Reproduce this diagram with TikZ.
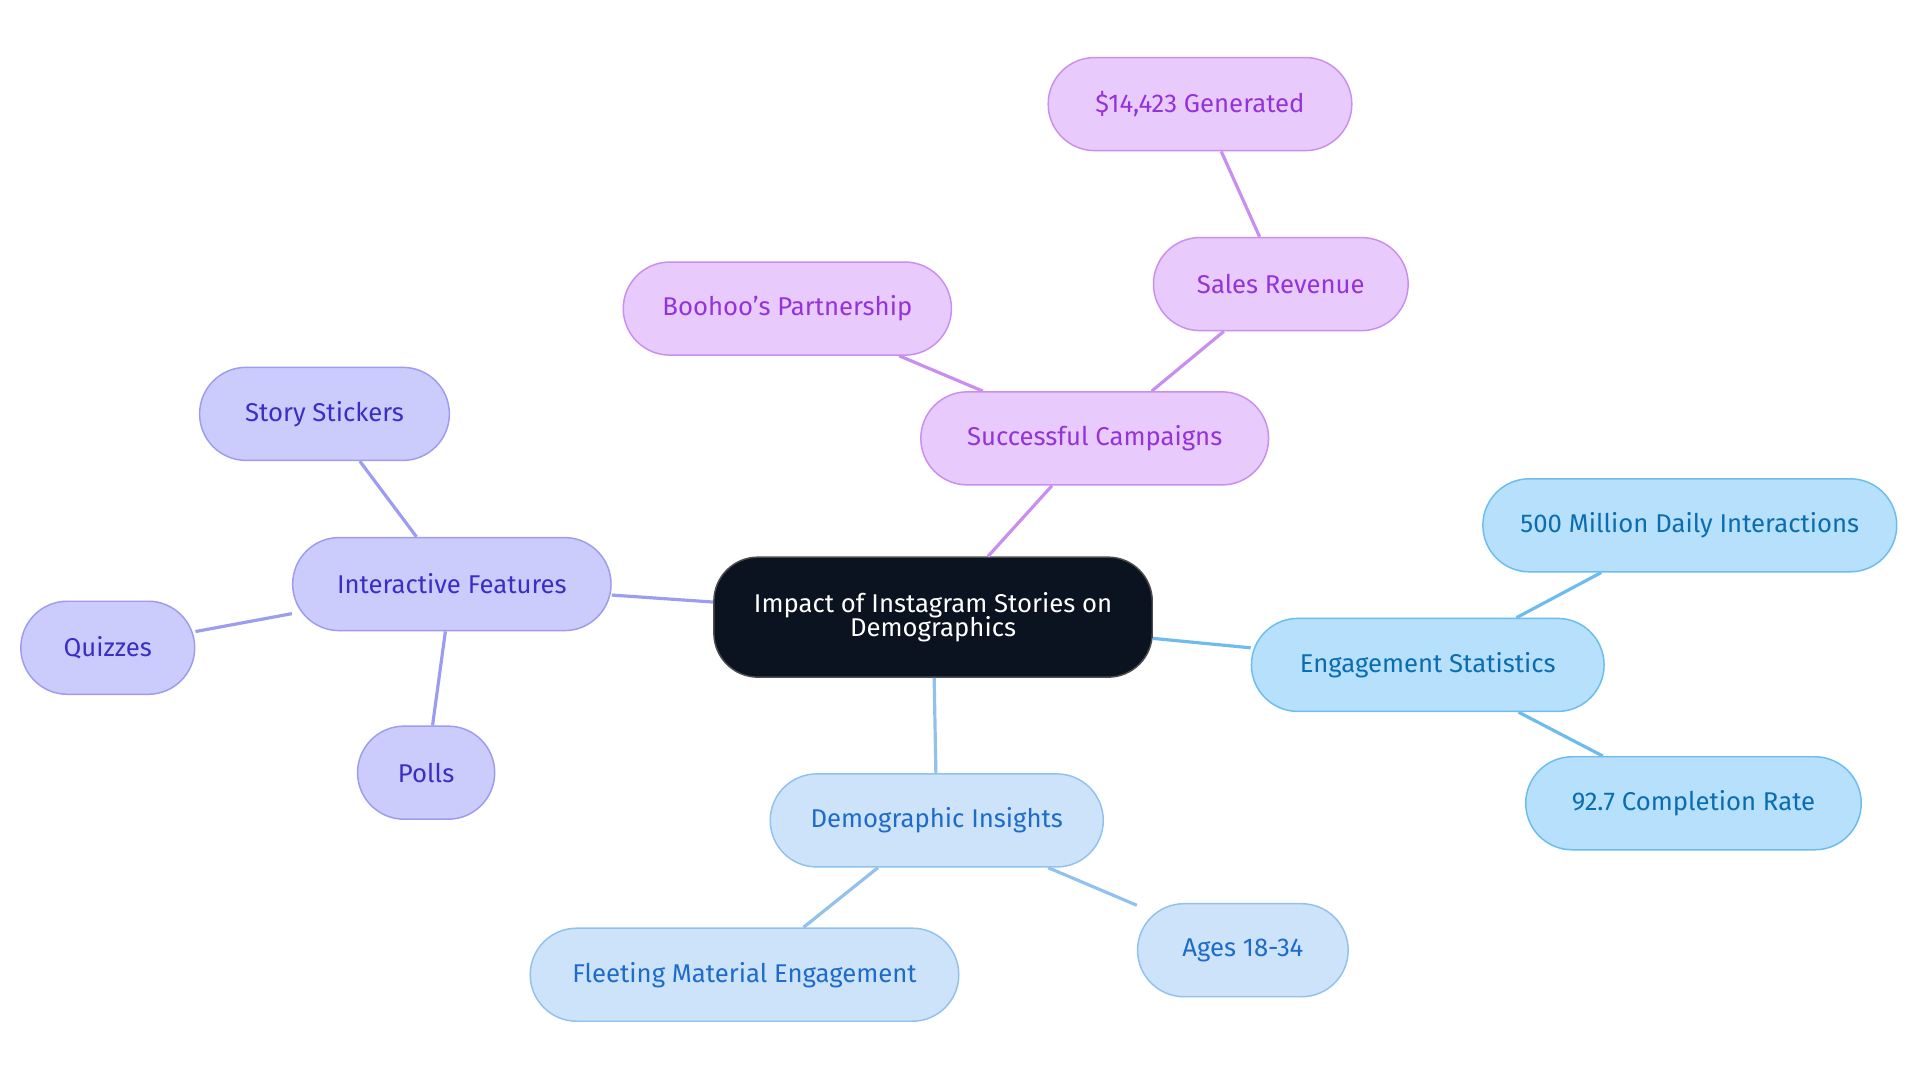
\documentclass[tikz,border=0pt]{standalone}
\usepackage{fontspec}
\setmainfont{Fira Sans}
\definecolor{pf}{HTML}{E8CBFC}\definecolor{pb}{HTML}{C98EF0}\definecolor{pt}{HTML}{9333D9}
\definecolor{vf}{HTML}{CBCBFC}\definecolor{vb}{HTML}{9C9CF0}\definecolor{vt}{HTML}{3A2FC4}
\definecolor{ef}{HTML}{B6E0FC}\definecolor{eb}{HTML}{6CBDED}\definecolor{et}{HTML}{0B6DB0}
\definecolor{df}{HTML}{CDE3FA}\definecolor{db}{HTML}{92C1EE}\definecolor{dt}{HTML}{1F6BC8}
\begin{document}
\begin{tikzpicture}[x=0.5pt,y=-0.5pt,
 box/.style={rectangle,rounded corners=19pt,minimum height=38pt,inner sep=0pt,line width=0.6pt,font=\fontsize{10.5}{12}\selectfont,align=center},
 P/.style={box,fill=pf,draw=pb,text=pt},
 V/.style={box,fill=vf,draw=vb,text=vt},
 E/.style={box,fill=ef,draw=eb,text=et},
 D/.style={box,fill=df,draw=db,text=dt},
 lk/.style={line width=1.3pt}]
\useasboundingbox (0,0) rectangle (1568,884);
\node[box,fill=black!90!blue!60!black,fill={rgb,255:red,11;green,18;blue,32},draw=black!70,text=white,minimum width=179pt,minimum height=49pt,rounded corners=18pt] (c) at (762,504) {Impact of Instagram Stories on\\[-2pt]Demographics};
\node[P,minimum width=142pt] (sc) at (894,358) {Successful Campaigns};
\node[P,minimum width=104pt] (sr) at (1046,232) {Sales Revenue};
\node[P,minimum width=124pt] (g) at (980,85) {\$14,423 Generated};
\node[P,minimum width=134pt] (bp) at (643,252) {Boohoo’s Partnership};
\node[V,minimum width=130pt] (if) at (369,477) {Interactive Features};
\node[V,minimum width=102pt] (ss) at (265,338) {Story Stickers};
\node[V,minimum width=71pt] (q) at (88,529) {Quizzes};
\node[V,minimum width=56pt] (po) at (348,631) {Polls};
\node[E,minimum width=144pt] (es) at (1166,543) {Engagement Statistics};
\node[E,minimum width=169pt] (m) at (1380,429) {500 Million Daily Interactions};
\node[E,minimum width=137pt] (cr) at (1383,656) {92.7 Completion Rate};
\node[D,minimum width=136pt] (di) at (765,670) {Demographic Insights};
\node[D,minimum width=86pt] (a) at (1015,776) {Ages 18-34};
\node[D,minimum width=175pt] (f) at (608,796) {Fleeting Material Engagement};
\begin{scope}[on background layer/.style={}]
\end{scope}
\draw[lk,pb] (c) -- (sc); \draw[lk,pb] (sc) -- (sr); \draw[lk,pb] (sr) -- (g); \draw[lk,pb] (sc) -- (bp);
\draw[lk,vb] (c) -- (if); \draw[lk,vb] (if) -- (ss); \draw[lk,vb] (if) -- (q); \draw[lk,vb] (if) -- (po);
\draw[lk,eb] (c) -- (es); \draw[lk,eb] (es) -- (m); \draw[lk,eb] (es) -- (cr);
\draw[lk,db] (c) -- (di); \draw[lk,db] (di) -- (a); \draw[lk,db] (di) -- (f);
\end{tikzpicture}
\end{document}
